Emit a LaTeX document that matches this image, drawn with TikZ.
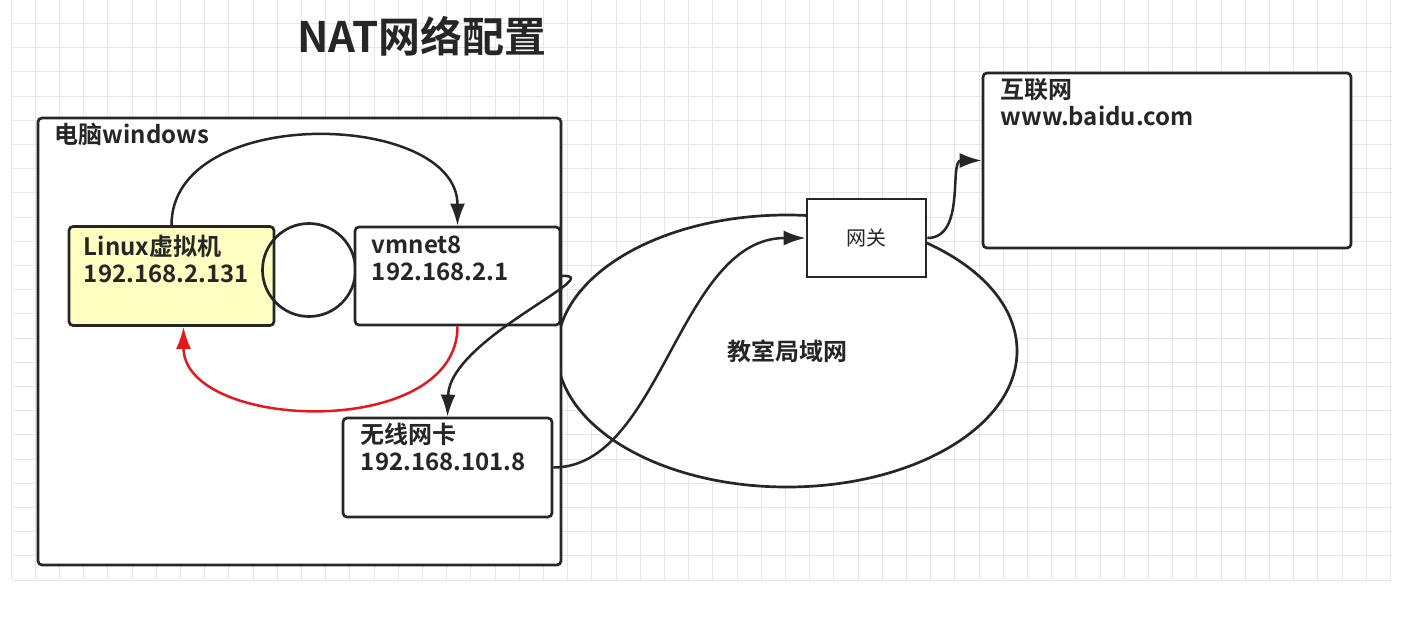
\documentclass[tikz,border=0pt]{standalone}
\usepackage{fontspec}
\setmainfont{Noto Sans CJK SC}[BoldFont={Noto Sans CJK SC Bold}]
\usetikzlibrary{arrows.meta, shapes.geometric, positioning}
\definecolor{vmyellow}{HTML}{FFFFC2}
\definecolor{inkline}{HTML}{262626}
\definecolor{gridgray}{HTML}{E6E6E6}
\definecolor{backred}{HTML}{E3191F}
\tikzset{
  hostbox/.style={shape=rectangle, draw=inkline, fill=white, line width=2.7pt, rounded corners=4pt, inner sep=0pt},
  boxtext/.style={anchor=north west, inner sep=0pt, align=left, text=inkline, font=\fontsize{24}{27}\selectfont\bfseries},
  link/.style={draw=inkline, line width=2.5pt, -{Latex[length=22pt, width=15pt]}},
}

\begin{document}
\begin{tikzpicture}[x=1pt, y=-1pt]
    \useasboundingbox (0,0) rectangle (1404,616);
    \fill[white] (0,0) rectangle (1404,616);
    \foreach \gx in {0,...,57} \draw[gridgray, line width=0.9pt] (11+24.2*\gx, 0) -- (11+24.2*\gx, 580);
    \foreach \gy in {0,...,23} \draw[gridgray, line width=0.9pt] (13, 580-24.2*\gy) -- (1392, 580-24.2*\gy);

    \node[name=title, text=inkline, font=\fontsize{42}{48}\selectfont\bfseries] at (422, 36) {NAT网络配置};

    \node[name=lan, shape=ellipse, draw=inkline, fill=white, line width=2.7pt, minimum width=460pt, minimum height=272pt, text=inkline, font=\fontsize{24}{27}\selectfont\bfseries] at (787, 351) {教室局域网};
    \node[name=pc, hostbox, minimum width=523pt, minimum height=447pt] at (299.5, 341.5) {};
    \node[name=pctext, boxtext] at ([shift={(18,6)}]pc.north west) {电脑windows};

    \node[name=linux, hostbox, fill=vmyellow, minimum width=205pt, minimum height=99pt] at (171.5, 276) {};
    \node[name=linuxtext, boxtext] at ([shift={(16,10)}]linux.north west) {Linux虚拟机\\192.168.2.131};
    \node[name=bridge, shape=circle, draw=inkline, line width=2.7pt, minimum size=93pt] at (309, 270) {};
    \node[name=vmnet, hostbox, minimum width=205pt, minimum height=98pt] at (457.5, 276) {};
    \node[name=vmnettext, boxtext] at ([shift={(18,10)}]vmnet.north west) {vmnet8\\192.168.2.1};
    \node[name=wifi, hostbox, minimum width=209pt, minimum height=99pt] at (447.5, 467.5) {};
    \node[name=wifitext, boxtext] at ([shift={(19,6)}]wifi.north west) {无线网卡\\192.168.101.8};

    \node[name=gw, shape=rectangle, draw=inkline, fill=white, line width=2.7pt, minimum width=119pt, minimum height=78pt, text=inkline, font=\fontsize{20}{24}\selectfont] at (866.5, 238) {网关};
    \node[name=net, hostbox, minimum width=368pt, minimum height=175pt] at (1167, 160.5) {};
    \node[name=nettext, boxtext] at ([shift={(19,7)}]net.north west) {互联网\\www.baidu.com};

    \draw[link] (linux.north) .. controls +(0,-122) and +(0,-115) .. (vmnet.north);
    \draw[link, draw=backred] (vmnet.south) .. controls +(0,115) and +(0,104) .. ([xshift=12pt]linux.south);
    \draw[link] (vmnet.east) .. controls +(50,-3) and +(2,-78) .. (wifi.north);
    \draw[link] (wifi.east) .. controls +(108,0) and +(-127,0) .. (gw.west);
    \draw[link] (gw.east) .. controls +(39,0) and +(-33,0) .. (net.west);
\end{tikzpicture}
\end{document}
